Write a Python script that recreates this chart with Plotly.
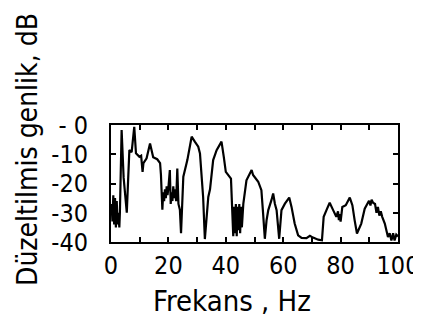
import plotly.graph_objects as go

freq_hz = [0.2, 0.5, 0.8, 1.1, 1.4, 1.7, 2.0, 2.3, 2.6, 2.9, 3.1, 3.7, 4.4, 5.0, 5.5, 6.0, 6.4, 7.2, 8.1, 8.7,
           9.9, 10.5, 11.0, 11.3, 12.4, 13.6, 14.7, 16.1, 17.1, 17.4, 17.7, 17.9, 18.2, 18.5, 18.8, 19.1, 19.4, 19.7,
           20.0, 20.5, 20.8, 21.1, 21.4, 21.7, 22.0, 22.3, 22.7, 23.1, 23.5, 24.0, 24.4, 25.2, 26.6, 28.1, 29.2,
           30.4, 31.0, 32.1, 32.7, 33.3, 33.9, 34.5, 35.6, 36.8, 38.5, 39.3, 40.0, 41.8, 42.3, 42.6, 42.9, 43.2,
           43.5, 43.8, 44.1, 44.4, 44.7, 45.0, 45.3, 45.6, 46.1, 46.6, 47.2, 49.0, 49.5, 51.3, 52.4, 53.0, 53.6,
           54.2, 54.8, 55.9, 56.5, 57.1, 57.7, 58.6, 59.4, 60.6, 62.1, 62.9, 64.0, 65.2, 66.4, 68.1, 69.3, 70.4,
           72.2, 73.5, 74.1, 75.3, 76.2, 77.4, 78.5, 79.1, 79.4, 79.7, 80.0, 80.6, 81.8, 83.2, 84.1, 84.9, 85.7,
           87.2, 88.4, 89.9, 90.4, 90.8, 91.3, 92.0, 92.5, 93.0, 93.5, 94.0, 94.5, 95.4, 96.5, 97.1, 97.7, 98.3,
           98.8, 99.4, 100.0]
amplitude_db = [-27, -33, -24, -34, -25, -35, -26, -34, -30, -35, -30, -1.7, -18, -26, -30, -18, -8.6, -9.3, -0.6, -9.7,
                -10.9, -10.5, -16, -13, -11.4, -6.3, -11, -11.7, -13, -17, -22, -29, -23, -26, -22, -25, -21, -24,
                -21.5, -15.4, -27, -23, -26, -21, -25, -22, -26, -14.9, -27, -29, -37, -17.7, -12, -4, -5.7,
                -7.4, -9.7, -24.6, -39, -31, -24.6, -22, -12, -8.6, -5.7, -10.9, -16, -18.3, -29, -38, -28, -37,
                -27, -38, -28, -36, -27, -37, -28, -35, -27, -22.3, -18.9, -15.4, -17.1, -19.4, -22.3, -30.3, -38.9,
                -32.6, -29.1, -25.7, -23.4, -26.9, -29.1, -38.9, -29.1, -26.9, -24.8, -28, -33.7, -37.7, -38.6, -38.7, -37.9, -38.5,
                -39.2, -39.4, -31.4, -28.6, -26.6, -29.1, -31.4, -29.5, -32.5, -30.5, -33, -28, -27.4, -24.8, -27.4, -32.6, -37.1,
                -33.7, -28.6, -25.9, -27.5, -25.5, -26.6, -27, -30, -28, -31, -29.5, -31.4, -33.7, -38.3, -37, -39.5, -37,
                -39.5, -37.5, -38.1]

x_tickvals = [0, 10, 20, 30, 40, 50, 60, 70, 80, 90, 100]
x_ticktext = ["0", "", "20", "", "40", "", "60", "", "80", "", "100"]
y_tickvals = [-40, -30, -20, -10, 0]
y_ticktext = ["-40", "-30", "-20", "-10", "- 0"]

FONT = "DejaVu Sans Condensed, Liberation Sans Narrow, DejaVu Sans, sans-serif"

fig = go.Figure()
fig.add_trace(go.Scatter(x=freq_hz, y=amplitude_db, mode="lines",
                         line=dict(color="black", width=2.2), showlegend=False))

# the page body keeps an 8px margin, so the figure is 8px smaller and shifted
fig.update_layout(
    width=413, height=322,
    margin=dict(l=103, r=23, t=117, b=88),
    paper_bgcolor="white", plot_bgcolor="white",
    font=dict(family=FONT, color="black", size=24),
)
fig.update_xaxes(range=[0, 100], showgrid=False, zeroline=False, automargin=False,
                 showline=True, linecolor="black", linewidth=2, mirror="ticks",
                 ticks="inside", ticklen=5, tickwidth=2, tickcolor="black",
                 tickvals=x_tickvals, ticktext=x_ticktext, ticklabelstandoff=0,
                 tickfont=dict(size=25))
fig.update_yaxes(range=[-40, 0], showgrid=False, zeroline=False, automargin=False,
                 showline=True, linecolor="black", linewidth=2, mirror="ticks",
                 ticks="inside", ticklen=5, tickwidth=2, tickcolor="black",
                 tickvals=y_tickvals, ticktext=y_ticktext, ticklabelstandoff=16,
                 tickfont=dict(size=25))

fig.add_annotation(text="Frekans , Hz", xref="paper", yref="paper",
                   x=(232 - 111) / 287, y=-(301 - 242) / 117, showarrow=False,
                   xanchor="center", yanchor="middle", font=dict(size=29))
fig.add_annotation(text="Düzeltilmis genlik, dB", xref="paper", yref="paper",
                   x=(27 - 111) / 287, y=(242 - 150) / 117, showarrow=False,
                   textangle=-90, xanchor="center", yanchor="middle", font=dict(size=28))

fig.write_html("out.html")
